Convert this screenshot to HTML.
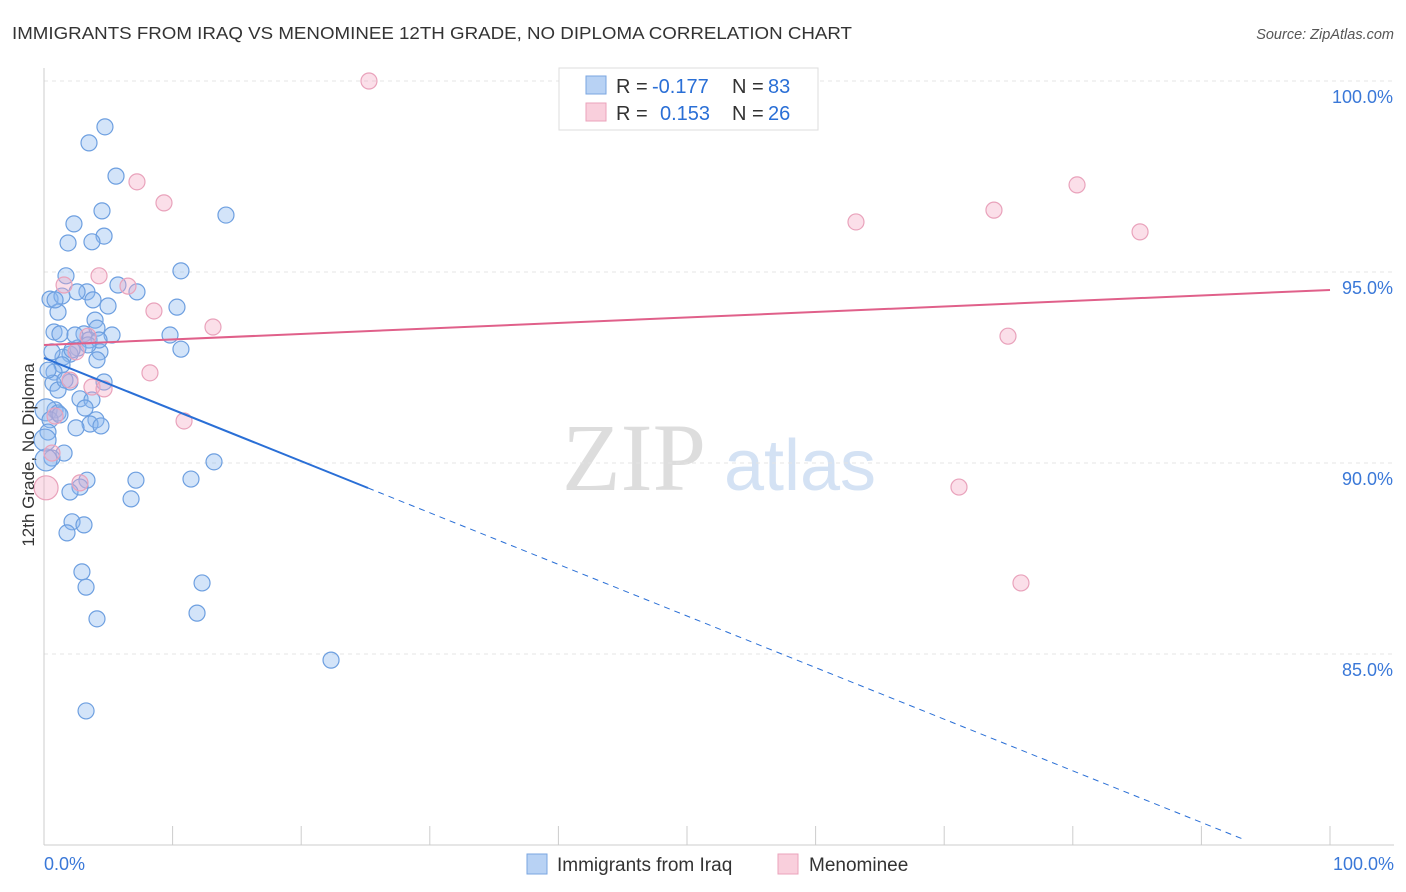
<!DOCTYPE html>
<html><head><meta charset="utf-8"><style>
body{margin:0;background:#fff;font-family:"Liberation Sans",sans-serif;}
</style></head><body>
<svg id="chart" width="1406" height="892" xmlns="http://www.w3.org/2000/svg" style="display:block">
<text x="12" y="39" font-size="17.5" textLength="840" lengthAdjust="spacingAndGlyphs" fill="#333" font-family="Liberation Sans, sans-serif">IMMIGRANTS FROM IRAQ VS MENOMINEE 12TH GRADE, NO DIPLOMA CORRELATION CHART</text>
<text x="1394" y="39" font-size="14.5" fill="#555" text-anchor="end" font-style="italic">Source: ZipAtlas.com</text>
<text x="634" y="490" font-size="96" fill="#ddd" text-anchor="middle" font-family="Liberation Serif, serif">ZIP</text>
<text x="800" y="490" font-size="72" fill="#d4e2f4" text-anchor="middle">atlas</text>
<g id="grid"></g>
<g id="axes"></g>
<g id="marks"></g>
<text transform="translate(34,455) rotate(-90)" font-size="17" fill="#333" text-anchor="middle">12th Grade, No Diploma</text>
<g font-size="20">
<rect x="559" y="68" width="259" height="62" fill="#fff" stroke="#ddd"/>
<rect x="586" y="76" width="20" height="18" fill="#b8d2f4" stroke="#7aa6e0"/>
<rect x="586" y="103" width="20" height="18" fill="#f9cfdc" stroke="#eba3bb"/>
<text x="616" y="93" fill="#333">R =</text>
<text x="652" y="93" fill="#2a6fd6">-0.177</text>
<text x="732" y="93" fill="#333">N =</text>
<text x="768" y="93" fill="#2a6fd6">83</text>
<text x="616" y="120" fill="#333">R =</text>
<text x="660" y="120" fill="#2a6fd6">0.153</text>
<text x="732" y="120" fill="#333">N =</text>
<text x="768" y="120" fill="#2a6fd6">26</text>
</g>
<g font-size="19">
<rect x="527" y="854" width="20" height="20" fill="#b8d2f4" stroke="#7aa6e0"/>
<text x="557" y="871" fill="#333">Immigrants from Iraq</text>
<rect x="778" y="854" width="20" height="20" fill="#f9cfdc" stroke="#eba3bb"/>
<text x="809" y="871" fill="#333">Menominee</text>
</g>
</svg>
<script>
const blueX=[4.74,3.50,5.60,4.51,14.15,2.33,4.67,1.87,3.73,10.65,1.71,5.75,7.23,0.47,1.40,3.34,2.57,4.98,10.34,1.09,3.97,0.78,1.24,3.11,4.12,5.29,9.80,3.50,2.64,4.35,10.65,2.02,1.48,4.12,0.62,1.40,0.78,0.70,4.67,2.02,2.80,3.73,0.86,3.19,0.16,1.09,4.04,3.58,0.47,4.43,2.49,0.31,1.56,0.62,13.22,0.16,3.34,7.15,11.43,2.80,2.02,6.77,2.18,3.11,1.79,2.95,12.29,3.27,4.12,11.90,22.32,3.27,1.24,2.18,4.28,0.31,1.09,0.08,3.42,1.63,2.41,0.86,3.81];
const blueY=[98.80,98.38,97.51,96.60,96.49,96.26,95.94,95.76,95.79,95.03,94.90,94.66,94.48,94.29,94.37,94.48,94.48,94.11,94.08,93.95,93.74,93.43,93.38,93.38,93.53,93.35,93.35,93.22,93.01,92.91,92.98,92.85,92.77,92.70,92.91,92.57,92.38,92.09,92.12,92.12,91.68,91.65,91.39,91.44,91.39,91.31,91.13,91.02,91.13,90.97,90.92,90.81,90.26,90.13,90.03,90.08,89.55,89.55,89.58,89.37,89.24,89.06,88.46,88.38,88.17,87.15,86.86,86.75,85.92,86.07,84.84,83.51,91.26,92.96,93.22,92.43,91.91,90.60,93.09,92.17,93.35,94.27,94.27];
const pinkX=[25.27,7.23,9.33,63.14,73.87,80.33,85.23,4.28,6.53,1.56,8.55,13.14,74.96,3.42,2.49,8.24,2.02,3.73,4.67,10.89,0.86,0.62,0.16,71.15,75.97,2.80];
const pinkY=[100.0,97.36,96.81,96.31,96.62,97.28,96.05,94.90,94.63,94.66,93.98,93.56,93.32,93.32,92.91,92.36,92.17,91.99,91.94,91.10,91.23,90.26,89.35,89.37,86.86,89.48];
const blueTrend=[92.75,79.24];
const pinkTrend=[93.09,94.53];
const yTicks=[100,95,90,85];
const yTickLabels=["100.0%","95.0%","90.0%","85.0%"];
const xTickVals=[0,10,20,30,40,50,60,70,80,90,100];
const NS="http://www.w3.org/2000/svg";
const X=v=>44+v*12.86, Y=v=>81+(100-v)*38.2;
function mk(tag,attrs,parent){const e=document.createElementNS(NS,tag);for(const k in attrs)e.setAttribute(k,attrs[k]);parent.appendChild(e);return e;}
const grid=document.getElementById('grid'),axes=document.getElementById('axes'),marks=document.getElementById('marks');
yTicks.forEach((t,i)=>{
 const l=mk('line',{x1:44,x2:1394,y1:Y(t),y2:Y(t),stroke:'#e4e4e4','stroke-dasharray':'4,4'},grid);
 
 
 const tx=mk('text',{x:1393,y:Y(t)+22,'font-size':18,fill:'#3a78d8','text-anchor':'end'},axes);
 tx.textContent=yTickLabels[i];
 
 
});
const al=mk('line',{x1:44,x2:1394,y1:845,y2:845,stroke:'#ccc'},axes);


const yl=mk('line',{x1:44,x2:44,y1:68,y2:845,stroke:'#ccc'},axes);


xTickVals.forEach(t=>{
 const l=mk('line',{x1:X(t),x2:X(t),y1:826,y2:845,stroke:'#ccc'},axes);
 
 
});
[[0,"0.0%","start",44],[100,"100.0%","end",1394]].forEach(d=>{
 const tx=mk('text',{x:d[3],y:870,'font-size':18,fill:'#3a78d8','text-anchor':d[2]},axes);
 tx.textContent=d[1];
 
 
});
blueX.forEach((x,i)=>{
 const c=mk('circle',{cx:X(x),cy:Y(blueY[i]),r:(x<0.3?11:8),fill:'rgba(140,185,240,0.38)',stroke:'#6d9fe0','stroke-width':1.2},marks);
 
 
});
pinkX.forEach((x,i)=>{
 const c=mk('circle',{cx:X(x),cy:Y(pinkY[i]),r:(x<0.3?12:8),fill:'rgba(245,170,198,0.38)',stroke:'#e9a2bb','stroke-width':1.2},marks);
 
 
});
const by=x=>blueTrend[0]+(blueTrend[1]-blueTrend[0])*x/100;
const b1=mk('line',{x1:X(0),y1:Y(by(0)),x2:X(25.2),y2:Y(by(25.2)),stroke:'#2a6fd6','stroke-width':2},marks);


const b2=mk('line',{x1:X(25.2),y1:Y(by(25.2)),x2:X(93.4),y2:Y(by(93.4)),stroke:'#2a6fd6','stroke-width':1,'stroke-dasharray':'6,5'},marks);


const p1=mk('line',{x1:X(0),y1:Y(pinkTrend[0]),x2:X(100),y2:Y(pinkTrend[1]),stroke:'#e0608a','stroke-width':2},marks);


</script>
</body></html>
